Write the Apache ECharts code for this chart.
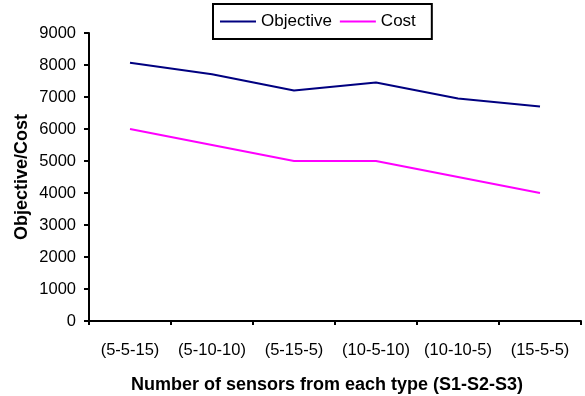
<!DOCTYPE html>
<html>
<head>
<meta charset="utf-8">
<script src="https://cdn.jsdelivr.net/npm/echarts@6/dist/echarts.min.js"></script>
<style>
  html, body { margin: 0; padding: 0; background: #fff; }
  #chart { width: 585px; height: 396px; }
</style>
</head>
<body>
<div id="chart"></div>
<script>
// Sensor mix (S1-S2-S3) on the x axis
const categories = ['(5-5-15)', '(5-10-10)', '(5-15-5)', '(10-5-10)', '(10-10-5)', '(15-5-5)'];
const objectiveValues = [8070, 7710, 7200, 7450, 6950, 6700];
const costValues = [6000, 5500, 5000, 5000, 4500, 4000];
const yTicks = { min: 0, max: 9000, interval: 1000 };

const FONT = '"Liberation Sans", Arial, sans-serif';
const chart = echarts.init(document.getElementById('chart'), null, { renderer: 'canvas' });

chart.setOption({
  animation: false,
  backgroundColor: '#ffffff',
  legend: {
    left: 213,
    top: 4,
    padding: [9, 16, 9, 7],
    itemGap: 8,
    itemWidth: 36,
    itemHeight: 2,
    icon: 'rect',
    borderColor: '#000',
    borderWidth: 2,
    textStyle: { fontFamily: FONT, fontSize: 17, color: '#000' },
    data: ['Objective', 'Cost']
  },
  grid: { left: 89, right: 4, top: 33, bottom: 75, containLabel: false, outerBoundsMode: 'none' },
  xAxis: {
    type: 'category',
    data: categories,
    boundaryGap: true,
    name: 'Number of sensors from each type (S1-S2-S3)',
    nameLocation: 'middle',
    nameGap: 55,
    nameMoveOverlap: false,
    nameTextStyle: { fontFamily: FONT, fontSize: 18, fontWeight: 'bold', color: '#000', padding: [0, 16, 0, 0] },
    axisLine: { lineStyle: { color: '#000', width: 2 } },
    axisTick: { show: true, length: 4, lineStyle: { color: '#000', width: 2 }, alignWithLabel: false },
    axisLabel: { fontFamily: FONT, fontSize: 16.5, color: '#000', margin: 21, interval: 0 },
    splitLine: { show: false }
  },
  yAxis: {
    type: 'value',
    min: yTicks.min,
    max: yTicks.max,
    interval: yTicks.interval,
    name: 'Objective/Cost',
    nameLocation: 'middle',
    nameRotate: 90,
    nameGap: 58,
    nameMoveOverlap: false,
    nameTextStyle: { fontFamily: FONT, fontSize: 18, fontWeight: 'bold', color: '#000' },
    axisLine: { show: true, lineStyle: { color: '#000', width: 2 } },
    axisTick: { show: true, length: 5, lineStyle: { color: '#000', width: 2 } },
    axisLabel: { fontFamily: FONT, fontSize: 16.5, color: '#000', margin: 13, formatter: v => String(v) },
    splitLine: { show: false }
  },
  series: [
    {
      name: 'Objective',
      type: 'line',
      data: objectiveValues,
      symbol: 'none',
      color: '#000080',
      lineStyle: { color: '#000080', width: 2 }
    },
    {
      name: 'Cost',
      type: 'line',
      data: costValues,
      symbol: 'none',
      color: '#ff00ff',
      lineStyle: { color: '#ff00ff', width: 2 }
    }
  ]
});
</script>
</body>
</html>
